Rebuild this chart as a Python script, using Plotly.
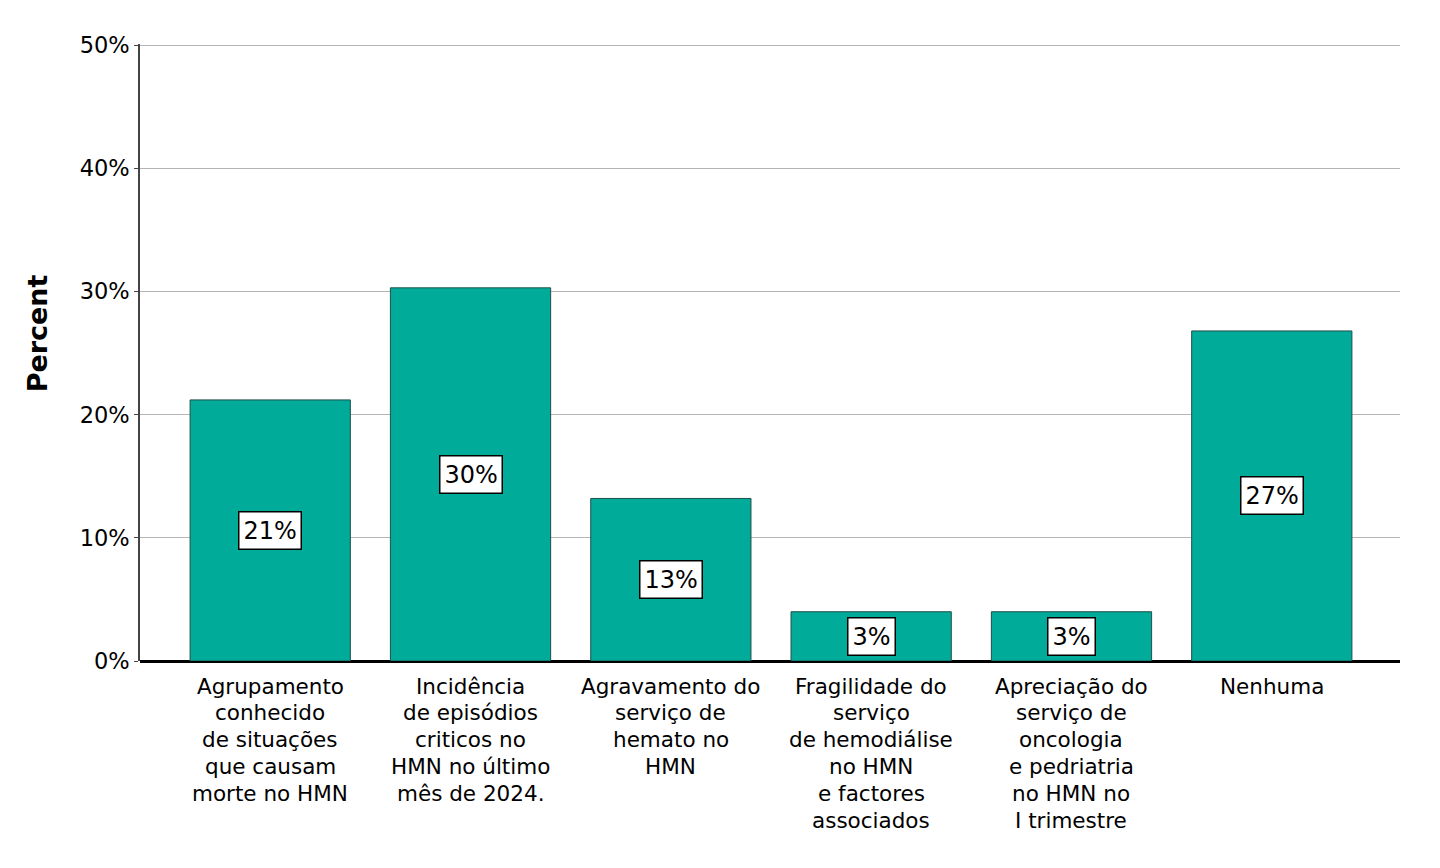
import plotly.graph_objects as go

categories = [
    "Agrupamento<br>conhecido<br>de situações<br>que causam<br>morte no HMN",
    "Incidência<br>de episódios<br>criticos no<br>HMN no último<br>mês de 2024.",
    "Agravamento do<br>serviço de<br>hemato no<br>HMN",
    "Fragilidade do<br>serviço<br>de hemodiálise<br>no HMN<br>e factores<br>associados",
    "Apreciação do<br>serviço de<br>oncologia<br>e pedriatria<br>no HMN no<br>I trimestre",
    "Nenhuma",
]
values = [21.2, 30.3, 13.2, 4.0, 4.0, 26.8]
value_labels = ["21%", "30%", "13%", "3%", "3%", "27%"]
y_ticks = [0, 10, 20, 30, 40, 50]
y_tick_labels = ["0%", "10%", "20%", "30%", "40%", "50%"]
y_title = "Percent"

FONT = "DejaVu Sans, Liberation Sans, Arial, sans-serif"
x_pos = list(range(len(categories)))

fig = go.Figure()
fig.add_trace(go.Bar(
    x=x_pos, y=values, width=0.8,
    marker=dict(color="#00AB9A", line=dict(color="#1f4f49", width=1)),
    hoverinfo="skip",
))

# value labels in white boxes
for xi, v, lab in zip(x_pos, values, value_labels):
    fig.add_annotation(
        x=xi, y=v / 2, text=lab, showarrow=False,
        font=dict(family=FONT, size=24, color="black"),
        bgcolor="white", bordercolor="black", borderwidth=1.5, borderpad=4,
    )

# category labels (one annotation per line for tight line spacing)
LINE_GAP = 26.8
for xi, cat in zip(x_pos, categories):
    for k, line in enumerate(cat.split("<br>")):
        fig.add_annotation(
            x=xi, xref="x", y=0, yref="paper", text=line, showarrow=False,
            yanchor="middle", xanchor="center", yshift=-(25 + k * LINE_GAP),
            font=dict(family=FONT, size=21.5, color="black"),
        )

# y-axis title
fig.add_annotation(
    x=0, xref="paper", y=0.531, yref="paper", text="<b>" + y_title + "</b>",
    textangle=-90, showarrow=False, xanchor="center", yanchor="middle",
    xshift=-103, font=dict(family=FONT, size=27, color="black"),
)

fig.update_layout(
    width=1440, height=868,
    margin=dict(l=132, r=48, t=36, b=215, autoexpand=False),
    plot_bgcolor="white", paper_bgcolor="white",
    showlegend=False,
    font=dict(family=FONT, color="black"),
)
fig.update_xaxes(
    range=[-0.65, 5.64], showgrid=False, ticks="", showline=False,
    showticklabels=False, zeroline=False, automargin=False,
)
fig.update_yaxes(
    range=[0, 50.1], tickmode="array", tickvals=y_ticks, ticktext=y_tick_labels,
    showgrid=True, gridcolor="#b5b5b5", gridwidth=1.2,
    showline=True, linecolor="#444444", linewidth=1.5,
    ticks="outside", ticklen=4, tickcolor="#444444",
    tickfont=dict(size=22.5, family=FONT, color="black"),
    zeroline=True, zerolinecolor="black", zerolinewidth=3,
    automargin=False,
)
fig.write_html("out.html")
